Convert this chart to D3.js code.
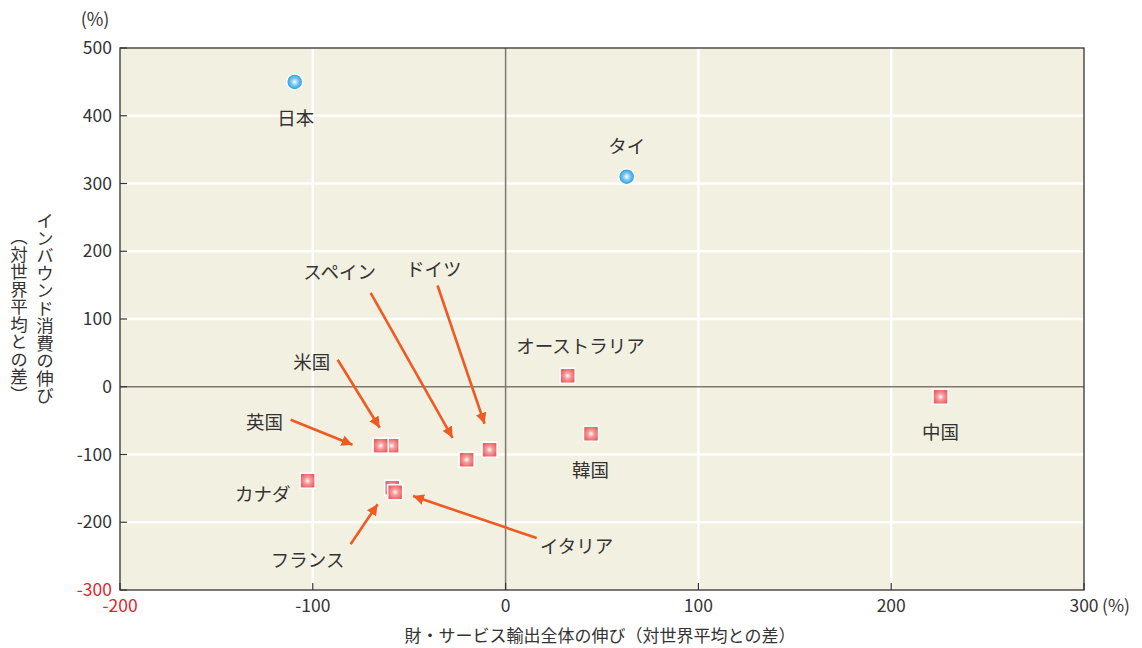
<!DOCTYPE html>
<html lang='ja'>
<head>
<meta charset='UTF-8'>
<script src='https://d3js.org/d3.v7.min.js'></script>
<title>インバウンド消費の伸び</title>
<style>
  body { margin: 0; background: #fff; }
  text { font-family: 'Noto Sans CJK JP', 'Noto Sans', sans-serif; fill: #333; }
</style>
</head>
<body>
<svg id='chart' width='1142' height='648'></svg>
<script>
// countries and values (x: export growth diff, y: inbound growth diff, %)
const countries = ['日本', 'タイ', 'オーストラリア', '中国', '韓国', 'ドイツ', 'スペイン', '米国', '英国', 'カナダ', 'フランス', 'イタリア']
const exportDiff = [-109.4, 62.8, 32.2, 225.6, 44.3, -8.3, -20.2, -59.1, -64.8, -102.7, -58.8, -57.3]
const inboundDiff = [450, 310, 16.2, -14.8, -69.4, -93, -107.7, -87, -87, -138.7, -149, -155.7]
const markerType = ['circle', 'circle', 'square', 'square', 'square', 'square', 'square', 'square', 'square', 'square', 'square', 'square']

// label positions (data units)
const labelX = [-108.9, 62.8, 38.9, 225.6, 44.1, -37.3, -86.1, -100.6, -125, -126, -102.7, 36.8]
const labelY = [395.6, 354.2, 59.0, -67.9, -124, 172.7, 168.3, 35.4, -53.1, -159.4, -256.8, -236.2]

// leader arrows: country, start and end (data units)
const arrowFor = ['スペイン', 'ドイツ', '米国', '英国', 'フランス', 'イタリア']
const arrowX1 = [-70.0, -35.3, -87.1, -111.5, -80.4, 16.1]
const arrowY1 = [138.4, 149.4, 39.9, -48.7, -232.5, -223.3]
const arrowX2 = [-27.5, -10.9, -65.3, -79.4, -66.4, -48.0]
const arrowY2 = [-75.3, -54.6, -60.5, -85.6, -173.4, -161.3]

const xTicks = [-200, -100, 0, 100, 200, 300]
const yTicks = [-300, -200, -100, 0, 100, 200, 300, 400, 500]

const svg = d3.select('#chart')
const mL = 120, mR = 1084, mT = 48, mB = 590

let x = d3.scaleLinear().domain([-200, 300]).range([mL, mR])
let y = d3.scaleLinear().domain([-300, 500]).range([mB, mT])

const defs = svg.append('defs')
const sq = defs.append('radialGradient').attr('id', 'sqGrad')
sq.append('stop').attr('offset', '0%').attr('stop-color', '#ffffff')
sq.append('stop').attr('offset', '40%').attr('stop-color', '#f6a0a0')
sq.append('stop').attr('offset', '100%').attr('stop-color', '#ec6262')
const ci = defs.append('radialGradient').attr('id', 'ciGrad')
ci.append('stop').attr('offset', '0%').attr('stop-color', '#ffffff')
ci.append('stop').attr('offset', '45%').attr('stop-color', '#7cc8f0')
ci.append('stop').attr('offset', '100%').attr('stop-color', '#1e96dc')
defs.append('marker').attr('id', 'head')
  .attr('viewBox', '0 0 10 10').attr('refX', 10).attr('refY', 5)
  .attr('markerWidth', 4.2).attr('markerHeight', 4.2).attr('markerUnits', 'strokeWidth')
  .attr('orient', 'auto')
  .append('path').attr('d', 'M0,0 L10,5 L0,10 Z').attr('fill', '#f05a22')

// plot background
svg.append('rect').attr('x', mL).attr('y', mT)
  .attr('width', mR - mL).attr('height', mB - mT)
  .attr('fill', '#f2f0e1')

// white grid
svg.selectAll('.gx').data(xTicks.filter(d => d != 0 && d != -200 && d != 300)).enter()
  .append('line').attr('x1', d => x(d)).attr('x2', d => x(d))
  .attr('y1', mT).attr('y2', mB).attr('stroke', '#fff').attr('stroke-width', 2.5)
svg.selectAll('.gy').data(yTicks.filter(d => d != 0 && d != -300 && d != 500)).enter()
  .append('line').attr('y1', d => y(d)).attr('y2', d => y(d))
  .attr('x1', mL).attr('x2', mR).attr('stroke', '#fff').attr('stroke-width', 2.5)

// zero lines
svg.append('line').attr('x1', x(0)).attr('x2', x(0)).attr('y1', mT).attr('y2', mB)
  .attr('stroke', '#7d796e').attr('stroke-width', 1.5)
svg.append('line').attr('y1', y(0)).attr('y2', y(0)).attr('x1', mL).attr('x2', mR)
  .attr('stroke', '#7d796e').attr('stroke-width', 1.5)

// frame
svg.append('rect').attr('x', mL).attr('y', mT)
  .attr('width', mR - mL).attr('height', mB - mT)
  .attr('fill', 'none').attr('stroke', '#333').attr('stroke-width', 1.3)

// inner ticks
svg.selectAll('.ty').data(yTicks).enter().append('line')
  .attr('x1', mL).attr('x2', mL + 7).attr('y1', d => y(d)).attr('y2', d => y(d))
  .attr('stroke', '#333').attr('stroke-width', 1.2)
svg.selectAll('.tx').data(xTicks).enter().append('line')
  .attr('y1', mB).attr('y2', mB - 7).attr('x1', d => x(d)).attr('x2', d => x(d))
  .attr('stroke', '#333').attr('stroke-width', 1.2)

// tick labels
svg.selectAll('.ly').data(yTicks).enter().append('text')
  .attr('x', mL - 8).attr('y', d => y(d) + 6)
  .attr('text-anchor', 'end').style('font-size', '17.5px')
  .style('fill', d => d == -300 ? '#e0262d' : '#333')
  .text(d => d)
svg.selectAll('.lx').data(xTicks).enter().append('text')
  .attr('x', d => x(d)).attr('y', mB + 22)
  .attr('text-anchor', 'middle').style('font-size', '17.5px')
  .style('fill', d => d == -200 ? '#e0262d' : '#333')
  .text(d => d)
svg.append('text').attr('x', x(300) + 18).attr('y', mB + 22)
  .style('font-size', '17.5px').text('(%)')
svg.append('text').attr('x', 95).attr('y', 26).attr('text-anchor', 'middle')
  .style('font-size', '18px').text('(%)')

// axis titles
svg.append('text').attr('x', (mL + mR) / 2 - 2).attr('y', 642)
  .attr('text-anchor', 'middle').style('font-size', '17px')
  .text('財・サービス輸出全体の伸び（対世界平均との差）')
svg.append('text').attr('transform', 'translate(45,212)')
  .style('writing-mode', 'vertical-rl').style('font-size', '17.5px')
  .text('インバウンド消費の伸び')
svg.append('text').attr('transform', 'translate(19,228)')
  .style('writing-mode', 'vertical-rl').style('font-size', '17.5px')
  .text('（対世界平均との差）')

// arrows
svg.selectAll('.arrow').data(arrowFor).enter().append('line')
  .attr('x1', (d, i) => x(arrowX1[i])).attr('y1', (d, i) => y(arrowY1[i]))
  .attr('x2', (d, i) => x(arrowX2[i])).attr('y2', (d, i) => y(arrowY2[i]))
  .attr('stroke', '#f05a22').attr('stroke-width', 2.6)
  .attr('marker-end', 'url(#head)')

// markers
countries.forEach((c, i) => {
  const cx = x(exportDiff[i]), cy = y(inboundDiff[i])
  if (markerType[i] == 'circle') {
    svg.append('circle').attr('cx', cx).attr('cy', cy).attr('r', 8)
      .attr('fill', 'url(#ciGrad)').attr('stroke', '#fff').attr('stroke-width', 1.5)
  } else {
    svg.append('rect').attr('x', cx - 7.5).attr('y', cy - 7.5).attr('width', 15).attr('height', 15)
      .attr('fill', 'url(#sqGrad)').attr('stroke', '#fff').attr('stroke-width', 1.5)
  }
})

// country labels
svg.selectAll('.cl').data(countries).enter().append('text')
  .attr('x', (d, i) => x(labelX[i])).attr('y', (d, i) => y(labelY[i]) + 6.5)
  .attr('text-anchor', 'middle').style('font-size', '18.5px')
  .text(d => d)
</script>
</body>
</html>
